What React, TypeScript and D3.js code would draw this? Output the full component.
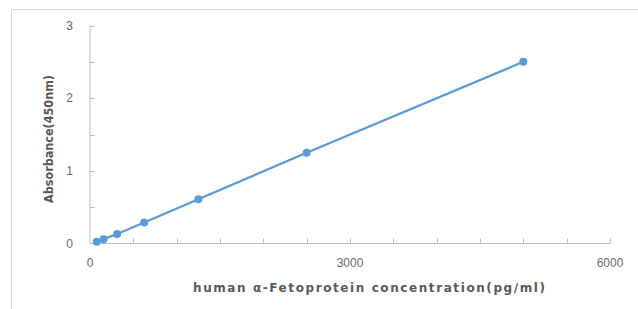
import React, { useRef, useEffect } from "react";
import { select, scaleLinear, line, range } from "d3";

const concentrations = [78.125, 156.25, 312.5, 625, 1250, 2500, 5000];
const absorbance = [0.025, 0.06, 0.13, 0.29, 0.61, 1.25, 2.5];
const xTickLabels = [0, 3000, 6000];
const yTickLabels = [0, 1, 2, 3];
const xTitle = "human α-Fetoprotein concentration(pg/ml)";
const yTitle = "Absorbance(450nm)";

const W = 638;
const H = 309;

const App = () => {
  const svgRef = useRef<SVGSVGElement>(null);

  useEffect(() => {
    const svg = select(svgRef.current);
    svg.selectAll("*").remove();

    const x = scaleLinear().domain([0, 6000]).range([90, 610]);
    const y = scaleLinear().domain([0, 3]).range([243.5, 25.5]);
    const font = "'Liberation Sans', Arial, sans-serif";
    const titleFont = "'DejaVu Sans', sans-serif";

    svg.append("rect")
      .attr("x", 11.5).attr("y", 9.5)
      .attr("width", W).attr("height", H)
      .attr("fill", "#fff").attr("stroke", "#d9d9d9");

    const axisColor = "#bfbfbf";

    // y axis + minor ticks every 0.5 (inside)
    svg.append("line")
      .attr("x1", x(0)).attr("x2", x(0))
      .attr("y1", y(0)).attr("y2", y(3))
      .attr("stroke", axisColor);
    svg.selectAll(".ytick")
      .data(range(0.5, 3.01, 0.5))
      .join("line")
      .attr("class", "ytick")
      .attr("x1", x(0)).attr("x2", x(0) + 5)
      .attr("y1", d => Math.round(y(d)) + 0.5).attr("y2", d => Math.round(y(d)) + 0.5)
      .attr("stroke", axisColor);

    // x axis + minor ticks every 500 (inside)
    svg.append("line")
      .attr("x1", x(0)).attr("x2", x(6000))
      .attr("y1", y(0)).attr("y2", y(0))
      .attr("stroke", axisColor);
    svg.selectAll(".xtick")
      .data(range(500, 6001, 500))
      .join("line")
      .attr("class", "xtick")
      .attr("x1", d => Math.round(x(d)) + 0.5).attr("x2", d => Math.round(x(d)) + 0.5)
      .attr("y1", y(0)).attr("y2", y(0) - 5)
      .attr("stroke", axisColor);

    svg.selectAll(".ylabel")
      .data(yTickLabels)
      .join("text")
      .attr("class", "ylabel")
      .attr("x", 73).attr("y", d => y(d) + 4)
      .attr("text-anchor", "end")
      .attr("font-family", font).attr("font-size", 12)
      .attr("fill", "#6b6b6b")
      .text(d => d);

    svg.selectAll(".xlabel")
      .data(xTickLabels)
      .join("text")
      .attr("class", "xlabel")
      .attr("x", d => x(d)).attr("y", 267)
      .attr("text-anchor", "middle")
      .attr("font-family", font).attr("font-size", 12)
      .attr("fill", "#6b6b6b")
      .text(d => d);

    svg.append("text")
      .attr("x", 369).attr("y", 292)
      .attr("text-anchor", "middle")
      .attr("font-family", titleFont).attr("font-size", 12).attr("font-weight", "bold")
      .attr("fill", "#595959")
      .attr("textLength", 352).attr("lengthAdjust", "spacing")
      .text(xTitle);

    svg.append("text")
      .attr("transform", "translate(53,139) rotate(-90)")
      .attr("text-anchor", "middle")
      .attr("font-family", titleFont).attr("font-size", 12).attr("font-weight", "bold")
      .attr("fill", "#595959")
      .attr("textLength", 128).attr("lengthAdjust", "spacingAndGlyphs")
      .text(yTitle);

    const pts = concentrations.map((c, i) => [c, absorbance[i]] as [number, number]);
    const path = line<[number, number]>().x(d => x(d[0])).y(d => y(d[1]));

    svg.append("path")
      .attr("d", path(pts))
      .attr("fill", "none")
      .attr("stroke", "#5b9bd5")
      .attr("stroke-width", 2.25);

    svg.selectAll(".pt")
      .data(pts)
      .join("circle")
      .attr("class", "pt")
      .attr("cx", d => x(d[0])).attr("cy", d => y(d[1]))
      .attr("r", 4)
      .attr("fill", "#5b9bd5");
  }, []);

  return (
    <svg
      ref={svgRef}
      width={W}
      height={H}
      style={{ position: "absolute", left: 0, top: 0, display: "block" }}
    />
  );
};

export default App;
